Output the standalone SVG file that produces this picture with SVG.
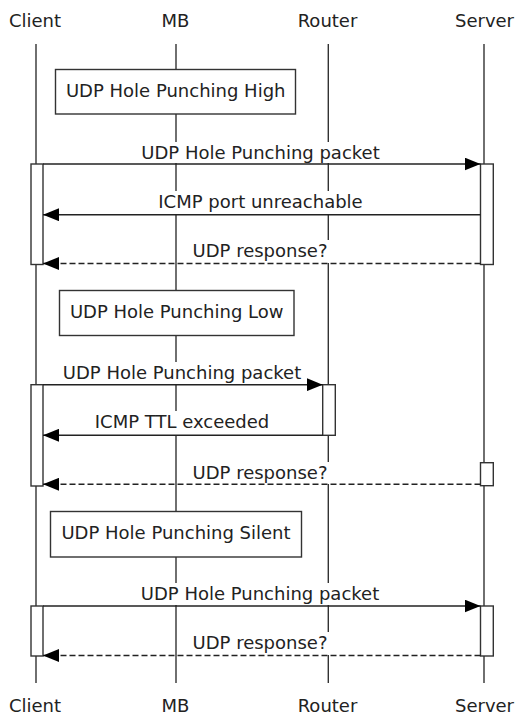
<svg xmlns="http://www.w3.org/2000/svg" width="516" height="718" viewBox="0 0 516 718">
<style>
text{font-family:"DejaVu Sans","Liberation Sans",sans-serif;font-size:18px;fill:#222;text-anchor:middle}
.life{stroke:#333;stroke-width:1.4;fill:none}
.box{fill:#fff;stroke:#333;stroke-width:1.4}
.act{fill:#fff;stroke:#333;stroke-width:1.4}
.bg{fill:#fff;stroke:none}
.msg{stroke:#222;stroke-width:1.4;fill:none;marker-end:url(#ah)}
.dash{stroke-dasharray:6 3}
</style>
<defs>
<marker id="ah" markerUnits="userSpaceOnUse" markerWidth="16" markerHeight="13" refX="16" refY="6.5" orient="auto">
<path d="M0,0 L16,6.5 L0,13 z" fill="#000" stroke="none"/>
</marker>
</defs>
<rect width="516" height="718" fill="#fff"/>
<g id="client">
<text x="35" y="26.5">Client</text>
<line class="life" x1="36" y1="44" x2="36" y2="683"/>
<text x="35" y="711.5">Client</text>
</g>
<g id="mb">
<text x="175.5" y="26.5">MB</text>
<line class="life" x1="176" y1="44" x2="176" y2="683"/>
<text x="175.5" y="711.5">MB</text>
</g>
<g id="router">
<text x="327.5" y="26.5">Router</text>
<line class="life" x1="328.3" y1="44" x2="328.3" y2="683"/>
<text x="327.5" y="711.5">Router</text>
</g>
<g id="server">
<text x="484.5" y="26.5">Server</text>
<line class="life" x1="484" y1="44" x2="484" y2="683"/>
<text x="484.5" y="711.5">Server</text>
</g>
<g id="box-high">
<rect class="box" x="55.5" y="69.5" width="240" height="44.5"/>
<text x="175.7" y="97.3">UDP Hole Punching High</text>
</g>
<g id="box-low">
<rect class="box" x="59.5" y="290.5" width="234.5" height="45"/>
<text x="176.7" y="318.3">UDP Hole Punching Low</text>
</g>
<g id="box-silent">
<rect class="box" x="50.5" y="511.5" width="251" height="45.5"/>
<text x="176" y="539.3">UDP Hole Punching Silent</text>
</g>
<g id="activations">
<rect class="act" x="31" y="164" width="12" height="100.5"/>
<rect class="act" x="480.5" y="164" width="12.8" height="100.5"/>
<rect class="act" x="31" y="384.7" width="12" height="101.3"/>
<rect class="act" x="322.7" y="384.7" width="12.6" height="50.6"/>
<rect class="act" x="480.5" y="462.7" width="12.8" height="23"/>
<rect class="act" x="31" y="606" width="12" height="50"/>
<rect class="act" x="480.5" y="606" width="12.8" height="50"/>
</g>
<g id="connectors">
<rect class="bg" x="139" y="142" width="243" height="21"/>
<text x="260.5" y="159">UDP Hole Punching packet</text>
<line class="msg" x1="43" y1="164" x2="480.5" y2="164"/>
<rect class="bg" x="156" y="191" width="209" height="23"/>
<text x="260.5" y="208.3">ICMP port unreachable</text>
<line class="msg" x1="480.5" y1="214.7" x2="43" y2="214.7"/>
<rect class="bg" x="190" y="240" width="140" height="23"/>
<text x="260" y="257.3">UDP response?</text>
<line class="msg dash" x1="480.5" y1="263.5" x2="43" y2="263.5"/>
<rect class="bg" x="60" y="362" width="244" height="22"/>
<text x="182" y="379.3">UDP Hole Punching packet</text>
<line class="msg" x1="43" y1="384.7" x2="322.7" y2="384.7"/>
<rect class="bg" x="93" y="411" width="178" height="24"/>
<text x="182" y="428.3">ICMP TTL exceeded</text>
<line class="msg" x1="322.7" y1="435.3" x2="43" y2="435.3"/>
<rect class="bg" x="190" y="462" width="140" height="22"/>
<text x="260" y="479.3">UDP response?</text>
<line class="msg dash" x1="480.5" y1="484.3" x2="43" y2="484.3"/>
<rect class="bg" x="138" y="583" width="244" height="22"/>
<text x="260" y="600">UDP Hole Punching packet</text>
<line class="msg" x1="43" y1="606" x2="480.5" y2="606"/>
<rect class="bg" x="190" y="632" width="140" height="23"/>
<text x="260" y="649.3">UDP response?</text>
<line class="msg dash" x1="480.5" y1="655.5" x2="43" y2="655.5"/>
</g>
</svg>
